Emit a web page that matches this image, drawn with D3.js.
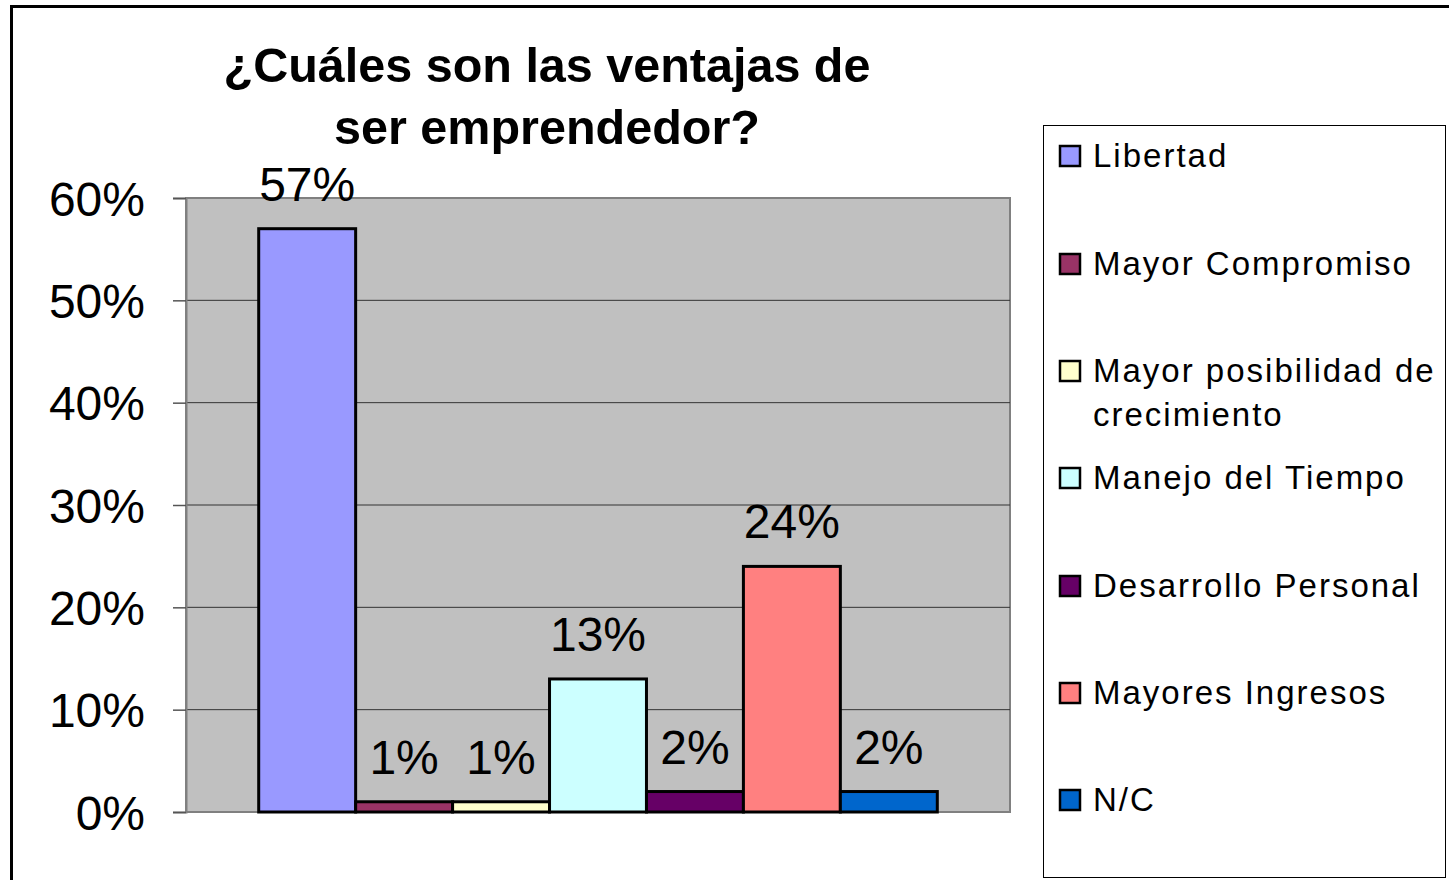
<!DOCTYPE html>
<html>
<head>
<meta charset="utf-8">
<script src="https://cdn.jsdelivr.net/npm/d3@7"></script>
<style>
  body { margin: 0; background: #fff; }
  text { font-family: "Liberation Sans", Arial, sans-serif; }
</style>
</head>
<body>
<svg id="chart" width="1449" height="880"></svg>
<script>
const categories = ['Libertad', 'Mayor Compromiso', 'Mayor posibilidad de crecimiento', 'Manejo del Tiempo', 'Desarrollo Personal', 'Mayores Ingresos', 'N/C']
const values = [0.57, 0.01, 0.01, 0.13, 0.02, 0.24, 0.02]
const colors = ['#9999FF', '#993366', '#FFFFCC', '#CCFFFF', '#660066', '#FF8080', '#0066CC']
const yTicks = [0, 0.1, 0.2, 0.3, 0.4, 0.5, 0.6]
const titleLines = ['¿Cuáles son las ventajas de', 'ser emprendedor?']

const svg = d3.select('#chart')
const plot = { x0: 186, x1: 1010, y0: 198, y1: 812 }

// outer chart border
svg.append('rect')
  .attr('x', 11.5).attr('y', 6.5)
  .attr('width', 1449).attr('height', 900)
  .attr('fill', '#fff').attr('stroke', '#000').attr('stroke-width', 3)

const y = d3.scaleLinear().domain([0, 0.6]).range([plot.y1, plot.y0])

// Excel-like gap width 150%: 7 bars + 1.5 bar of gap
const barW = (plot.x1 - plot.x0) / (categories.length + 1.5)
const x = d3.scaleBand()
  .domain(categories)
  .range([plot.x0 + barW * 0.75, plot.x1 - barW * 0.75])
  .padding(0)

// plot area
svg.append('rect')
  .attr('x', plot.x0).attr('y', plot.y0)
  .attr('width', plot.x1 - plot.x0).attr('height', plot.y1 - plot.y0)
  .attr('fill', '#C0C0C0').attr('stroke', '#808080').attr('stroke-width', 2)

// gridlines
svg.append('g')
  .selectAll('line')
  .data(yTicks.slice(1, -1))
  .enter()
  .append('line')
  .attr('x1', plot.x0).attr('x2', plot.x1)
  .attr('y1', d => y(d)).attr('y2', d => y(d))
  .attr('stroke', '#333').attr('stroke-width', 1)

// y axis
const yAxis = svg.append('g')
  .attr('transform', `translate(${plot.x0},0)`)
  .call(d3.axisLeft(y).tickValues(yTicks).tickFormat(d3.format('.0%')).tickSize(13).tickPadding(28))
yAxis.select('.domain').attr('stroke', '#808080').attr('stroke-width', 2)
yAxis.selectAll('.tick line').attr('stroke', '#555').attr('stroke-width', 1.5)
yAxis.selectAll('.tick text')
  .attr('fill', '#000')
  .style('font-size', '48px')
  .attr('dy', '0.36em')

// bars
svg.append('g')
  .selectAll('rect')
  .data(values)
  .enter()
  .append('rect')
  .attr('x', (d, i) => x(categories[i]))
  .attr('y', d => y(d))
  .attr('width', x.bandwidth())
  .attr('height', d => plot.y1 - y(d))
  .attr('fill', (d, i) => colors[i])
  .attr('stroke', '#000').attr('stroke-width', 3)

// data labels
svg.append('g')
  .selectAll('text')
  .data(values)
  .enter()
  .append('text')
  .attr('x', (d, i) => x(categories[i]) + x.bandwidth() / 2)
  .attr('y', d => y(d) - 28)
  .attr('text-anchor', 'middle')
  .style('font-size', '48px')
  .text(d => d3.format('.0%')(d))

// title
svg.append('g')
  .selectAll('text')
  .data(titleLines)
  .enter()
  .append('text')
  .attr('x', 547)
  .attr('y', (d, i) => 82 + i * 62)
  .attr('text-anchor', 'middle')
  .style('font-size', '48.5px')
  .style('font-weight', 'bold')
  .text(d => d)

// legend
const legend = svg.append('g')
legend.append('rect')
  .attr('x', 1043.5).attr('y', 125.5)
  .attr('width', 402).attr('height', 752)
  .attr('fill', '#fff').attr('stroke', '#000').attr('stroke-width', 1)

const legendRows = [155, 263, 370, 477, 585, 692, 799]
const item = legend.selectAll('g.item')
  .data(categories)
  .enter()
  .append('g')
  .attr('class', 'item')
  .attr('transform', (d, i) => `translate(1060,${legendRows[i]})`)

item.append('rect')
  .attr('x', 0).attr('y', -9)
  .attr('width', 20).attr('height', 20)
  .attr('fill', (d, i) => colors[i])
  .attr('stroke', '#000').attr('stroke-width', 2.5)

item.append('text')
  .attr('x', 33)
  .attr('y', 12)
  .style('font-size', '33px')
  .style('letter-spacing', '2px')
  .each(function (d) {
    const t = d3.select(this)
    const lines = d === 'Mayor posibilidad de crecimiento' ? ['Mayor posibilidad de', 'crecimiento'] : [d]
    lines.forEach((l, j) => {
      t.append('tspan').attr('x', 33).attr('dy', j === 0 ? 0 : 44).text(l)
    })
  })
</script>
</body>
</html>
